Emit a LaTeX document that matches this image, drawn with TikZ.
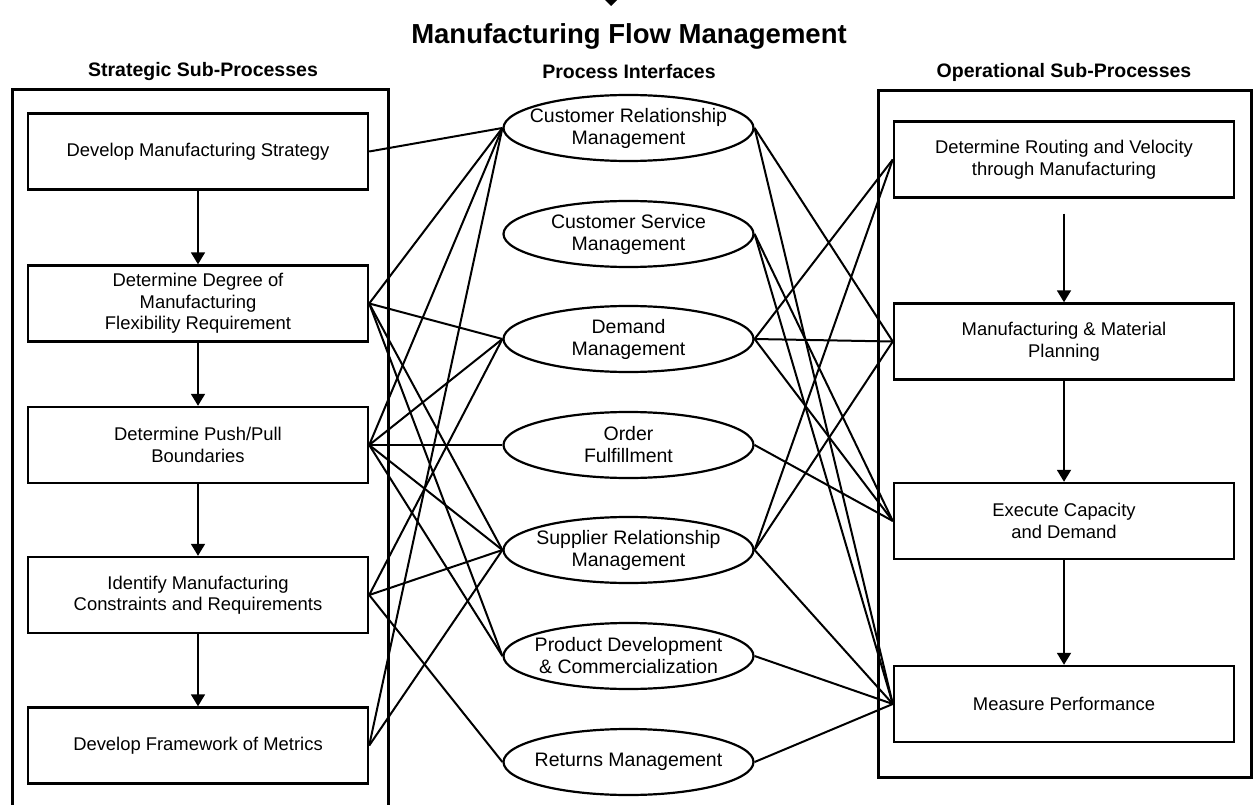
\documentclass[tikz,border=0pt]{standalone}
\usepackage{fontspec}
\setmainfont{Liberation Sans}
\usetikzlibrary{shapes.geometric,arrows.meta}
\begin{document}
\begin{tikzpicture}[x=1pt,y=-1pt]
\tikzset{boite/.style={draw, line width=2.4pt, minimum width=340pt, minimum height=76pt, align=center, font=\fontsize{18.4}{21.5}\selectfont},
  interface/.style={draw, ellipse, line width=2.2pt, minimum width=250pt, minimum height=66pt, inner sep=0pt},
  itexte/.style={align=center, font=\fontsize{19.5}{22}\selectfont},
  entete/.style={font=\bfseries\fontsize{19.5}{22}\selectfont},
  lien/.style={line width=2pt},
  fleche/.style={line width=1.8pt, -{Triangle[width=14pt,length=12pt]}}}
\useasboundingbox (0,0) rectangle (1256,805);
\fill[white] (0,0) rectangle (1256,805);
\fill (605,0) -- (617,0) -- (611,6) -- cycle;
\node[font=\bfseries\fontsize{27.5}{30}\selectfont] (titre) at (629,36) {Manufacturing Flow Management};
\node[entete] (hs) at (203,72) {Strategic Sub-Processes};
\node[entete] (hp) at (629,72) {Process Interfaces};
\node[entete] (ho) at (1064,72) {Operational Sub-Processes};
\draw[line width=3pt] (12,812) -- (12,90) -- (388,90) -- (388,812);
\draw[line width=3pt] (878,91) rectangle (1251,777);
\node[boite] (l1) at (198,151.5) {Develop Manufacturing Strategy};
\node[boite] (l2) at (198,303.5) {Determine Degree of\\Manufacturing\\Flexibility Requirement};
\node[boite] (l3) at (198,445) {Determine Push/Pull\\Boundaries};
\node[boite] (l4) at (198,595) {Identify Manufacturing\\Constraints and Requirements};
\node[boite] (l5) at (198,745.5) {Develop Framework of Metrics};
\node[boite] (r1) at (1064,159.5) {Determine Routing and Velocity\\through Manufacturing};
\node[boite] (r2) at (1064,341.5) {Manufacturing \& Material\\Planning};
\node[boite] (r3) at (1064,521) {Execute Capacity\\and Demand};
\node[boite] (r4) at (1064,704) {Measure Performance};
\node[interface] (crm) at (628.5,128) {};
\node[interface] (csm) at (628.5,234) {};
\node[interface] (dm) at (628.5,339) {};
\node[interface] (of) at (628.5,445) {};
\node[interface] (srm) at (628.5,550) {};
\node[interface] (pdc) at (628.5,656) {};
\node[interface] (rm) at (628.5,762) {};
\node[itexte] (crm-t) at (crm) {Customer Relationship\\Management};
\node[itexte] (csm-t) at (csm) {Customer Service\\Management};
\node[itexte] (dm-t) at (dm) {Demand\\Management};
\node[itexte] (of-t) at (of) {Order\\Fulfillment};
\node[itexte] (srm-t) at (srm) {Supplier Relationship\\Management};
\node[itexte] (pdc-t) at (pdc) {Product Development\\\& Commercialization};
\node[itexte] (rm-t) at (rm) {Returns Management};
\draw[fleche] (l1) -- (l2);
\draw[fleche] (l2) -- (l3);
\draw[fleche] (l3) -- (l4);
\draw[fleche] (l4) -- (l5);
\draw[fleche, shorten <=15pt] (r1) -- (r2);
\draw[fleche] (r2) -- (r3);
\draw[fleche] (r3) -- (r4);
\draw[lien] (l1.east) -- (crm.west);
\draw[lien] (l2.east) -- (crm.west);
\draw[lien] (l2.east) -- (dm.west);
\draw[lien] (l2.east) -- (srm.west);
\draw[lien] (l2.east) -- (pdc.west);
\draw[lien] (l3.east) -- (crm.west);
\draw[lien] (l3.east) -- (dm.west);
\draw[lien] (l3.east) -- (of.west);
\draw[lien] (l3.east) -- (srm.west);
\draw[lien] (l3.east) -- (pdc.west);
\draw[lien] (l4.east) -- (dm.west);
\draw[lien] (l4.east) -- (srm.west);
\draw[lien] (l4.east) -- (rm.west);
\draw[lien] (l5.east) -- (crm.west);
\draw[lien] (l5.east) -- (srm.west);
\draw[lien] (crm.east) -- (r2.west);
\draw[lien] (crm.east) -- (r4.west);
\draw[lien] (csm.east) -- (r3.west);
\draw[lien] (csm.east) -- (r4.west);
\draw[lien] (dm.east) -- (r1.west);
\draw[lien] (dm.east) -- (r2.west);
\draw[lien] (dm.east) -- (r3.west);
\draw[lien] (of.east) -- (r3.west);
\draw[lien] (srm.east) -- (r1.west);
\draw[lien] (srm.east) -- (r2.west);
\draw[lien] (srm.east) -- (r4.west);
\draw[lien] (pdc.east) -- (r4.west);
\draw[lien] (rm.east) -- (r4.west);
\end{tikzpicture}
\end{document}
